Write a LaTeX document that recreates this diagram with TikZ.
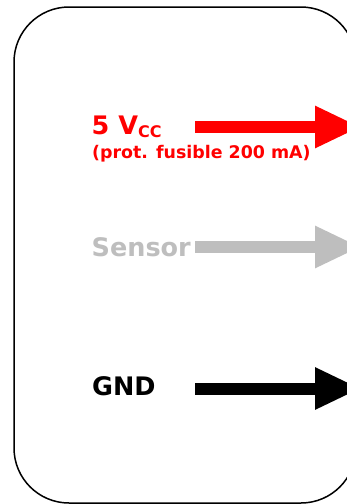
\documentclass[tikz,border=0pt]{standalone}
\usepackage{fontspec}
\setmainfont{DejaVu Sans}
\usetikzlibrary{arrows.meta}
\definecolor{vccred}{HTML}{FF0000}
\definecolor{sensgray}{HTML}{BEBEBE}
\tikzset{
  lbl/.style={anchor=base west, inner sep=0pt, font=\bfseries\fontsize{25.5}{30}\selectfont},
  fat/.style={line width=12pt, -{Triangle[length=46pt,width=39pt]}},
}
\begin{document}
\begin{tikzpicture}[x=1pt,y=-1pt]
\useasboundingbox (0,0) rectangle (347,504);
\fill[white] (0,0) rectangle (347,504);
\clip (0,0) rectangle (347,504);
\draw[line width=1.5pt, rounded corners=55pt] (14,7) rectangle (356,503);
% 5 Vcc
\node[lbl, text=vccred] (vcc) at (91.5,134.3) {5 V\raisebox{-3pt}{\fontsize{16}{19}\selectfont CC}};
\node[anchor=base west, inner sep=0pt, text=vccred, font=\bfseries\fontsize{17.4}{20}\selectfont] (fuse) at (92,158) {(prot. fusible 200 mA)};
\coordinate (vccA) at (195,127);
\coordinate (vccB) at (361,127);
\draw[fat, vccred] (vccA) -- (vccB);
% Sensor
\node[lbl, text=sensgray] (sens) at (91.5,256) {Sensor};
\coordinate (sensA) at (195,247);
\coordinate (sensB) at (361,247);
\draw[fat, sensgray] (sensA) -- (sensB);
% GND
\node[lbl, text=black] (gnd) at (92,395) {GND};
\coordinate (gndA) at (195,388.5);
\coordinate (gndB) at (361,388.5);
\draw[fat, black] (gndA) -- (gndB);
\end{tikzpicture}
\end{document}
